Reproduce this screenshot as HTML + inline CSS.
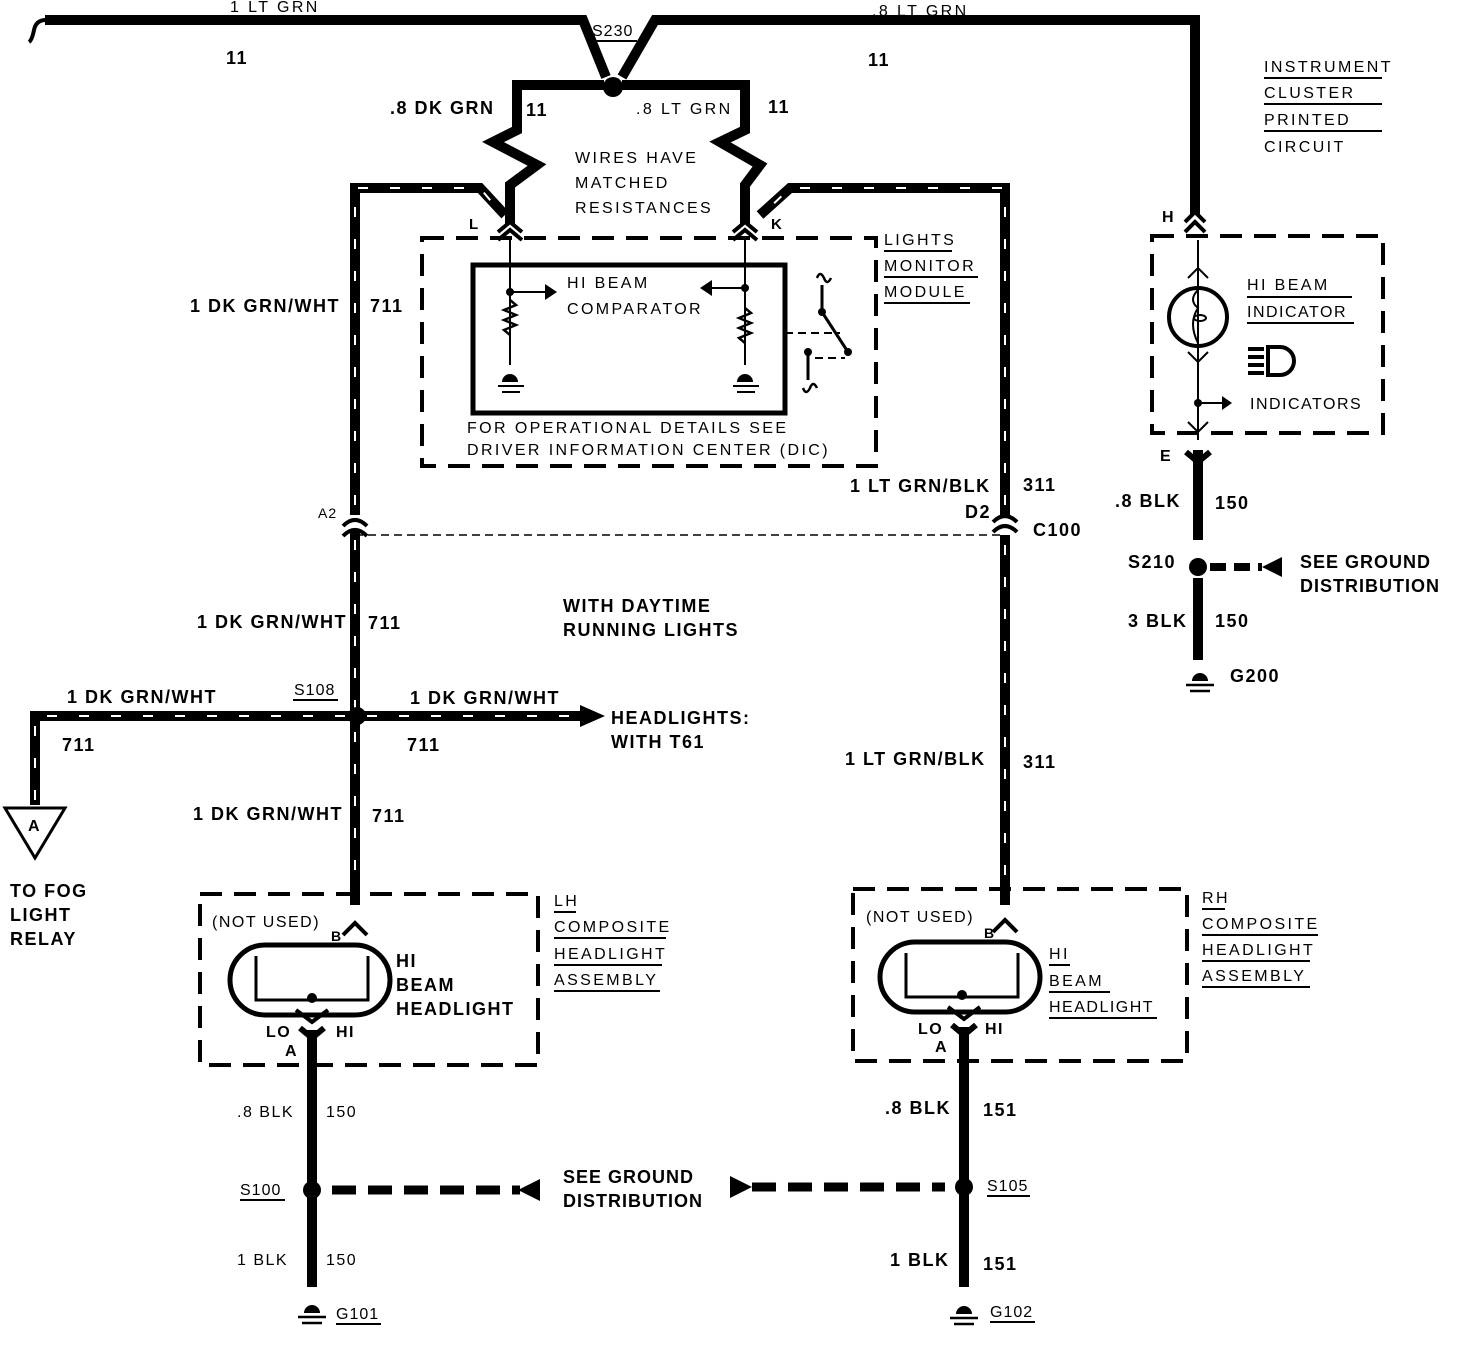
<!DOCTYPE html>
<html><head><meta charset="utf-8"><style>
html,body{margin:0;padding:0;background:#fff}
svg{display:block}
text{font-family:"Liberation Sans",sans-serif;fill:#000}
.b{font-weight:bold;font-size:18px;letter-spacing:1.5px}
.n{font-size:16px;letter-spacing:2.4px}
</style></head><body>
<svg width="1472" height="1348" viewBox="0 0 1472 1348" xmlns="http://www.w3.org/2000/svg">
<g fill="none" stroke="#000" stroke-linejoin="miter">
<path d="M45,20 L583,20 L606,77" stroke-width="10"/>
<path d="M46,20 q-10,0 -12,10 q-2,10 -5,12" stroke-width="4"/>
<path d="M622,77 L655,20 L1195,20 L1195,215" stroke-width="10"/>
<path d="M604,85 L517,85 L517,130 L493,142 L537,165 L510,185 L510,224" stroke-width="10"/>
<path d="M622,85 L745,85 L745,130 L720,142 L760,165 L745,185 L745,224" stroke-width="10"/>
<g stroke-width="10">
<path d="M355,515 L355,188 L480,188 L505,215"/>
<path d="M1005,515 L1005,188 L790,188 L760,215"/>
<path d="M355,530 L355,905"/>
<path d="M1005,535 L1005,905"/>
<path d="M35,805 L35,716 L583,716"/>
</g>
<g stroke="#fff" stroke-width="2" stroke-dasharray="10 22">
<path d="M355,505 L355,188 L480,188 L500,212"/>
<path d="M1005,505 L1005,188 L790,188 L765,212"/>
<path d="M355,540 L355,895"/>
<path d="M1005,545 L1005,895"/>
<path d="M35,800 L35,716 L575,716"/>
</g>
<path d="M343,526 q12,-12 24,0 M343,536 q12,-12 24,0" stroke-width="4"/>
<path d="M993,522 q12,-12 24,0 M993,532 q12,-12 24,0" stroke-width="4"/>
<path d="M355,535 L1005,535" stroke-width="1.5" stroke-dasharray="8 5"/>
<path d="M498,232 L510,222 L522,232 M498,240 L510,230 L522,240 M733,232 L745,222 L757,232 M733,240 L745,230 L757,240" stroke-width="4"/>
<rect x="422" y="238" width="454" height="228" stroke-width="4" stroke-dasharray="22 12"/>
<rect x="473" y="265" width="312" height="148" stroke-width="5"/>
<path d="M510,240 L510,365 M745,240 L745,365" stroke-width="2"/>
<path d="M510,292 L545,292 M745,288 L712,288" stroke-width="2"/>
<path d="M510,300 l6,5 -12,5 12,5 -12,5 12,5 -12,5 6,5 M745,308 l6,5 -12,5 12,5 -12,5 12,5 -12,5 6,5" stroke-width="2.5"/>
<path d="M498,386 L524,386 M502,392 L520,392 M733,386 L759,386 M737,392 L755,392" stroke-width="2"/>
<path d="M785,333 L840,333 M815,358 L845,358" stroke-width="2" stroke-dasharray="8 5"/>
<path d="M822,285 L822,312 L848,352 M808,352 L808,380" stroke-width="3"/>
<path d="M817,278 q3,-8 7,0 q3,8 7,0 M803,388 q3,8 7,0 q3,-8 7,0" stroke-width="2.5"/>
<path d="M1185,222 L1195,212 L1205,222 M1185,232 L1195,222 L1205,232" stroke-width="4"/>
<rect x="1152" y="236" width="231" height="197" stroke-width="4" stroke-dasharray="22 12"/>
<path d="M1198,240 L1198,440" stroke-width="2"/>
<path d="M1188,278 L1198,268 L1208,278 M1188,352 L1198,362 L1208,352 M1188,422 L1198,432 L1208,422" stroke-width="2"/>
<circle cx="1198" cy="317" r="29" stroke-width="4"/>
<path d="M1198,290 q-10,10 0,18 q-10,15 0,35" stroke-width="2"/>
<ellipse cx="1200" cy="318" rx="6" ry="3" stroke-width="2"/>
<path d="M1198,403 L1222,403" stroke-width="2"/>
<path d="M1198,450 L1198,540 M1198,578 L1198,660" stroke-width="10"/>
<path d="M1186,452 L1198,462 L1210,452" stroke-width="6"/>
<path d="M1210,567 L1262,567" stroke-width="8" stroke-dasharray="16 8"/>
<rect x="200" y="894" width="338" height="171" stroke-width="4" stroke-dasharray="22 12"/>
<rect x="230" y="945" width="160" height="70" rx="35" stroke-width="5"/>
<path d="M256,956 L256,1000 L368,1000 L368,956" stroke-width="3"/>
<path d="M343,935 L355,923 L367,935 M296,1010 L312,1022 L328,1010" stroke-width="4"/>
<path d="M312,1030 L312,1287" stroke-width="10"/>
<path d="M300,1028 L312,1038 L324,1028" stroke-width="6"/>
<path d="M332,1190 L520,1190" stroke-width="9" stroke-dasharray="24 12"/>
<rect x="853" y="889" width="334" height="172" stroke-width="4" stroke-dasharray="22 12"/>
<rect x="880" y="942" width="160" height="70" rx="35" stroke-width="5"/>
<path d="M906,953 L906,997 L1018,997 L1018,953" stroke-width="3"/>
<path d="M993,932 L1005,920 L1017,932 M948,1007 L964,1019 L980,1007" stroke-width="4"/>
<path d="M964,1027 L964,1287" stroke-width="10"/>
<path d="M952,1025 L964,1035 L976,1025" stroke-width="6"/>
<path d="M752,1187 L945,1187" stroke-width="9" stroke-dasharray="24 12"/>
<path d="M5,808 L65,808 L35,858 Z" stroke-width="3"/>
<path d="M298,1317 L326,1317 M302,1323 L322,1323 M950,1318 L978,1318 M954,1324 L974,1324 M1186,685 L1214,685 M1190,691 L1210,691" stroke-width="2.5"/>
</g>
<g fill="#000">
<circle cx="613" cy="87" r="10"/>
<circle cx="357" cy="716" r="9"/>
<circle cx="312" cy="1190" r="9"/>
<circle cx="964" cy="1187" r="9"/>
<circle cx="1198" cy="567" r="9"/>
<circle cx="510" cy="292" r="4"/><circle cx="745" cy="288" r="4"/>
<circle cx="822" cy="312" r="4"/><circle cx="808" cy="352" r="4"/><circle cx="848" cy="352" r="4"/>
<circle cx="312" cy="998" r="5"/><circle cx="962" cy="995" r="5"/>
<circle cx="1198" cy="403" r="4"/>
<path d="M545,284 L557,292 L545,300Z M712,280 L700,288 L712,296Z"/>
<path d="M580,705 L605,716 L580,727Z"/>
<path d="M540,1179 L540,1201 L518,1190Z M730,1176 L730,1198 L752,1187Z"/>
<path d="M1282,557 L1282,577 L1262,567Z M1222,396 L1232,403 L1222,410Z"/>
<path d="M502,382 a8,8 0 0 1 16,0Z M737,382 a8,8 0 0 1 16,0Z M304,1313 a8,8 0 0 1 16,0Z M956,1314 a8,8 0 0 1 16,0Z M1192,681 a8,8 0 0 1 16,0Z"/>
<rect x="1248" y="347" width="16" height="4"/><rect x="1248" y="355" width="16" height="4"/><rect x="1248" y="363" width="16" height="4"/><rect x="1248" y="371" width="16" height="4"/>
</g>
<path d="M1268,347 L1280,347 A14,14 0 0 1 1280,375 L1268,375Z" fill="none" stroke="#000" stroke-width="4"/>
<g>
<text class="n" x="230" y="12">1 LT GRN</text>
<text class="n" x="872" y="16">.8 LT GRN</text>
<text class="b" x="226" y="64">11</text>
<text class="b" x="868" y="66">11</text>
<text class="n" x="592" y="36" style="letter-spacing:1px">S230</text><path d="M592,41 L637,41" stroke="#000" stroke-width="2"/>
<text class="b" x="390" y="114">.8 DK GRN</text>
<text class="b" x="526" y="116">11</text>
<text class="n" x="636" y="114">.8 LT GRN</text>
<text class="b" x="768" y="113">11</text>
<text class="n" x="575" y="163">WIRES HAVE</text>
<text class="n" x="575" y="188">MATCHED</text>
<text class="n" x="575" y="213">RESISTANCES</text>
<text class="b" x="469" y="229" style="font-size:15px">L</text>
<text class="b" x="771" y="229" style="font-size:15px">K</text>
<text class="n" x="567" y="288">HI BEAM</text>
<text class="n" x="567" y="314">COMPARATOR</text>
<text class="n" x="467" y="433">FOR OPERATIONAL DETAILS SEE</text>
<text class="n" x="467" y="455">DRIVER INFORMATION CENTER (DIC)</text>
<text class="n" x="884" y="245">LIGHTS</text><path d="M884,251 L952,251" stroke="#000" stroke-width="2"/>
<text class="n" x="884" y="271">MONITOR</text><path d="M884,277 L978,277" stroke="#000" stroke-width="2"/>
<text class="n" x="884" y="297">MODULE</text><path d="M884,303 L970,303" stroke="#000" stroke-width="2"/>
<text class="n" x="1264" y="72">INSTRUMENT</text><path d="M1264,78 L1382,78" stroke="#000" stroke-width="2"/>
<text class="n" x="1264" y="98">CLUSTER</text><path d="M1264,104 L1382,104" stroke="#000" stroke-width="2"/>
<text class="n" x="1264" y="125">PRINTED</text><path d="M1264,131 L1382,131" stroke="#000" stroke-width="2"/>
<text class="n" x="1264" y="152">CIRCUIT</text>
<text class="b" x="1162" y="222" style="font-size:16px">H</text>
<text class="n" x="1247" y="290">HI BEAM</text><path d="M1247,297 L1352,297" stroke="#000" stroke-width="2"/>
<text class="n" x="1247" y="317" style="letter-spacing:1.5px">INDICATOR</text><path d="M1247,323 L1354,323" stroke="#000" stroke-width="2"/>
<text class="n" x="1250" y="409" style="letter-spacing:1.5px">INDICATORS</text>
<text class="b" x="1160" y="461" style="font-size:16px">E</text>
<text class="b" x="1115" y="507">.8 BLK</text>
<text class="b" x="1215" y="509">150</text>
<text class="b" x="1128" y="568">S210</text>
<text class="b" x="1300" y="568" style="letter-spacing:1px">SEE GROUND</text>
<text class="b" x="1300" y="592" style="letter-spacing:1px">DISTRIBUTION</text>
<text class="b" x="1128" y="627">3 BLK</text>
<text class="b" x="1215" y="627">150</text>
<text class="b" x="1230" y="682">G200</text>
<text class="b" x="190" y="312">1 DK GRN/WHT</text>
<text class="b" x="370" y="312">711</text>
<text class="b" x="850" y="492">1 LT GRN/BLK</text>
<text class="b" x="1023" y="491">311</text>
<text class="n" x="318" y="518" style="font-size:14px;letter-spacing:1px">A2</text>
<text class="b" x="965" y="518">D2</text>
<text class="b" x="1033" y="536">C100</text>
<text class="b" x="563" y="612">WITH DAYTIME</text>
<text class="b" x="563" y="636">RUNNING LIGHTS</text>
<text class="b" x="197" y="628">1 DK GRN/WHT</text>
<text class="b" x="368" y="629">711</text>
<text class="b" x="67" y="703">1 DK GRN/WHT</text>
<text class="n" x="294" y="695" style="letter-spacing:1px">S108</text><path d="M293,700 L338,700" stroke="#000" stroke-width="2"/>
<text class="b" x="410" y="704">1 DK GRN/WHT</text>
<text class="b" x="611" y="724">HEADLIGHTS:</text>
<text class="b" x="611" y="748">WITH T61</text>
<text class="b" x="62" y="751">711</text>
<text class="b" x="407" y="751">711</text>
<text class="b" x="845" y="765">1 LT GRN/BLK</text>
<text class="b" x="1023" y="768">311</text>
<text class="b" x="193" y="820">1 DK GRN/WHT</text>
<text class="b" x="372" y="822">711</text>
<text class="b" x="28" y="831" style="font-size:16px">A</text>
<text class="b" x="10" y="897">TO FOG</text>
<text class="b" x="10" y="921">LIGHT</text>
<text class="b" x="10" y="945">RELAY</text>
<text class="n" x="212" y="927" style="letter-spacing:1.5px">(NOT USED)</text>
<text class="b" x="331" y="941" style="font-size:14px">B</text>
<text class="b" x="396" y="967">HI</text>
<text class="b" x="396" y="991">BEAM</text>
<text class="b" x="396" y="1015">HEADLIGHT</text>
<text class="n" x="554" y="906">LH</text><path d="M554,912 L576,912" stroke="#000" stroke-width="2"/>
<text class="n" x="554" y="932">COMPOSITE</text><path d="M554,938 L666,938" stroke="#000" stroke-width="2"/>
<text class="n" x="554" y="959">HEADLIGHT</text><path d="M554,965 L662,965" stroke="#000" stroke-width="2"/>
<text class="n" x="554" y="985">ASSEMBLY</text><path d="M554,991 L660,991" stroke="#000" stroke-width="2"/>
<text class="b" x="266" y="1037" style="font-size:16px">LO</text>
<text class="b" x="336" y="1037" style="font-size:16px">HI</text>
<text class="b" x="285" y="1056" style="font-size:16px">A</text>
<text class="n" x="237" y="1117" style="letter-spacing:1.5px">.8 BLK</text>
<text class="n" x="326" y="1117" style="letter-spacing:1.5px">150</text>
<text class="n" x="240" y="1195" style="letter-spacing:1px">S100</text><path d="M240,1200 L285,1200" stroke="#000" stroke-width="2"/>
<text class="b" x="563" y="1183" style="letter-spacing:1px">SEE GROUND</text>
<text class="b" x="563" y="1207" style="letter-spacing:1px">DISTRIBUTION</text>
<text class="n" x="237" y="1265" style="letter-spacing:1.5px">1 BLK</text>
<text class="n" x="326" y="1265" style="letter-spacing:1.5px">150</text>
<text class="n" x="336" y="1319" style="letter-spacing:1px">G101</text><path d="M336,1324 L381,1324" stroke="#000" stroke-width="2"/>
<text class="n" x="866" y="922" style="letter-spacing:1.5px">(NOT USED)</text>
<text class="b" x="984" y="938" style="font-size:14px">B</text>
<text class="n" x="1049" y="959">HI</text><path d="M1049,965 L1070,965" stroke="#000" stroke-width="2"/>
<text class="n" x="1049" y="986">BEAM</text><path d="M1049,992 L1110,992" stroke="#000" stroke-width="2"/>
<text class="n" x="1049" y="1012" style="letter-spacing:1.5px">HEADLIGHT</text><path d="M1049,1018 L1157,1018" stroke="#000" stroke-width="2"/>
<text class="n" x="1202" y="903">RH</text><path d="M1202,909 L1225,909" stroke="#000" stroke-width="2"/>
<text class="n" x="1202" y="929">COMPOSITE</text><path d="M1202,935 L1318,935" stroke="#000" stroke-width="2"/>
<text class="n" x="1202" y="955">HEADLIGHT</text><path d="M1202,961 L1310,961" stroke="#000" stroke-width="2"/>
<text class="n" x="1202" y="981">ASSEMBLY</text><path d="M1202,987 L1310,987" stroke="#000" stroke-width="2"/>
<text class="b" x="918" y="1034" style="font-size:16px">LO</text>
<text class="b" x="985" y="1034" style="font-size:16px">HI</text>
<text class="b" x="935" y="1052" style="font-size:16px">A</text>
<text class="b" x="885" y="1114">.8 BLK</text>
<text class="b" x="983" y="1116">151</text>
<text class="n" x="987" y="1191" style="letter-spacing:1px">S105</text><path d="M987,1196 L1030,1196" stroke="#000" stroke-width="2"/>
<text class="b" x="890" y="1266">1 BLK</text>
<text class="b" x="983" y="1270">151</text>
<text class="n" x="990" y="1317" style="letter-spacing:1px">G102</text><path d="M990,1322 L1035,1322" stroke="#000" stroke-width="2"/>
</g>
</svg>
</body></html>
